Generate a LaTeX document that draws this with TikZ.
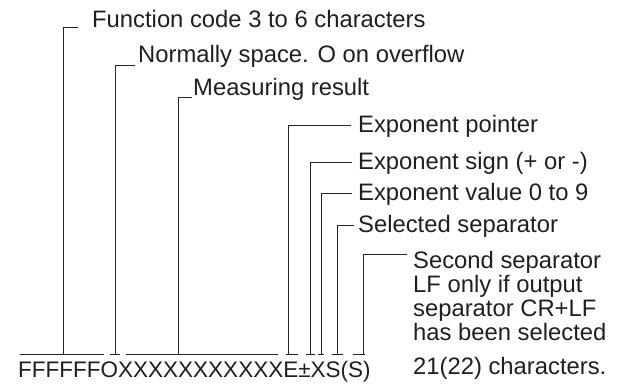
\documentclass[tikz,border=0pt]{standalone}
\usepackage{fontspec}
\setmainfont{Liberation Sans}
\begin{document}
\begin{tikzpicture}[x=1pt,y=-1pt,
  lbl/.style={anchor=base west, inner sep=0pt, font=\fontsize{23.8}{25}\selectfont, text=black!88},
  code/.style={anchor=base west, inner sep=0pt, font=\fontsize{22.5}{24}\selectfont, text=black!88},
  lead/.style={draw=black!85, line width=0.9pt}]
\useasboundingbox (0,0) rectangle (617,383);
% labels
\node[lbl] (fc) at (92,27) {Function code 3 to 6 characters};
\node[lbl] (ns) at (138,62) {Normally space. O on overflow};
\node[lbl] (mr) at (193,95) {Measuring result};
\node[lbl] (ep) at (358,132) {Exponent pointer};
\node[lbl] (es) at (358,169) {Exponent sign (+ or -)};
\node[lbl] (ev) at (358,200) {Exponent value 0 to 9};
\node[lbl] (sp) at (358,232) {Selected separator};
\node[lbl] (s1) at (413,268) {Second separator};
\node[lbl] (s2) at (413,292) {LF only if output};
\node[lbl] (s3) at (413,316) {separator CR+LF};
\node[lbl] (s4) at (413,340) {has been selected};
\node[lbl] (cnt) at (413,374) {21(22) characters.};
\node[code] (str) at (18,377) {FFFFFFOXXXXXXXXXXXE±XS(S)};
% bracket bars under the string
\coordinate (a1) at (20,354);  \coordinate (a2) at (104,354);
\coordinate (b1) at (110,354); \coordinate (b2) at (120,354);
\coordinate (c1) at (126,354); \coordinate (c2) at (278,354);
\coordinate (d1) at (286,354); \coordinate (d2) at (298,354);
\coordinate (e1) at (306,354); \coordinate (e2) at (315,354);
\coordinate (f1) at (318,354); \coordinate (f2) at (324,354);
\coordinate (g1) at (332,354); \coordinate (g2) at (343,354);
\coordinate (h1) at (353,354); \coordinate (h2) at (365,354);
\foreach \p in {a,b,c,d,e,f,g,h} \draw[lead] (\p1) -- (\p2);
% leaders
\coordinate (fa) at (63,354);  \coordinate (ta) at (78,27);
\coordinate (fb) at (115,354); \coordinate (tb) at (135,65);
\coordinate (fc0) at (178,354); \coordinate (tc) at (192,97);
\coordinate (fd) at (288,354); \coordinate (td) at (351,125);
\coordinate (fe) at (310,354); \coordinate (te) at (352,162);
\coordinate (ff) at (321,354); \coordinate (tf) at (352,193);
\coordinate (fg) at (337,354); \coordinate (tg) at (354,225);
\coordinate (fh) at (363,354); \coordinate (th) at (407,254);
\draw[lead] (fa) |- (ta);
\draw[lead] (fb) |- (tb);
\draw[lead] (fc0) |- (tc);
\draw[lead] (fd) |- (td);
\draw[lead] (fe) |- (te);
\draw[lead] (ff) |- (tf);
\draw[lead] (fg) |- (tg);
\draw[lead] (fh) |- (th);
\end{tikzpicture}
\end{document}
